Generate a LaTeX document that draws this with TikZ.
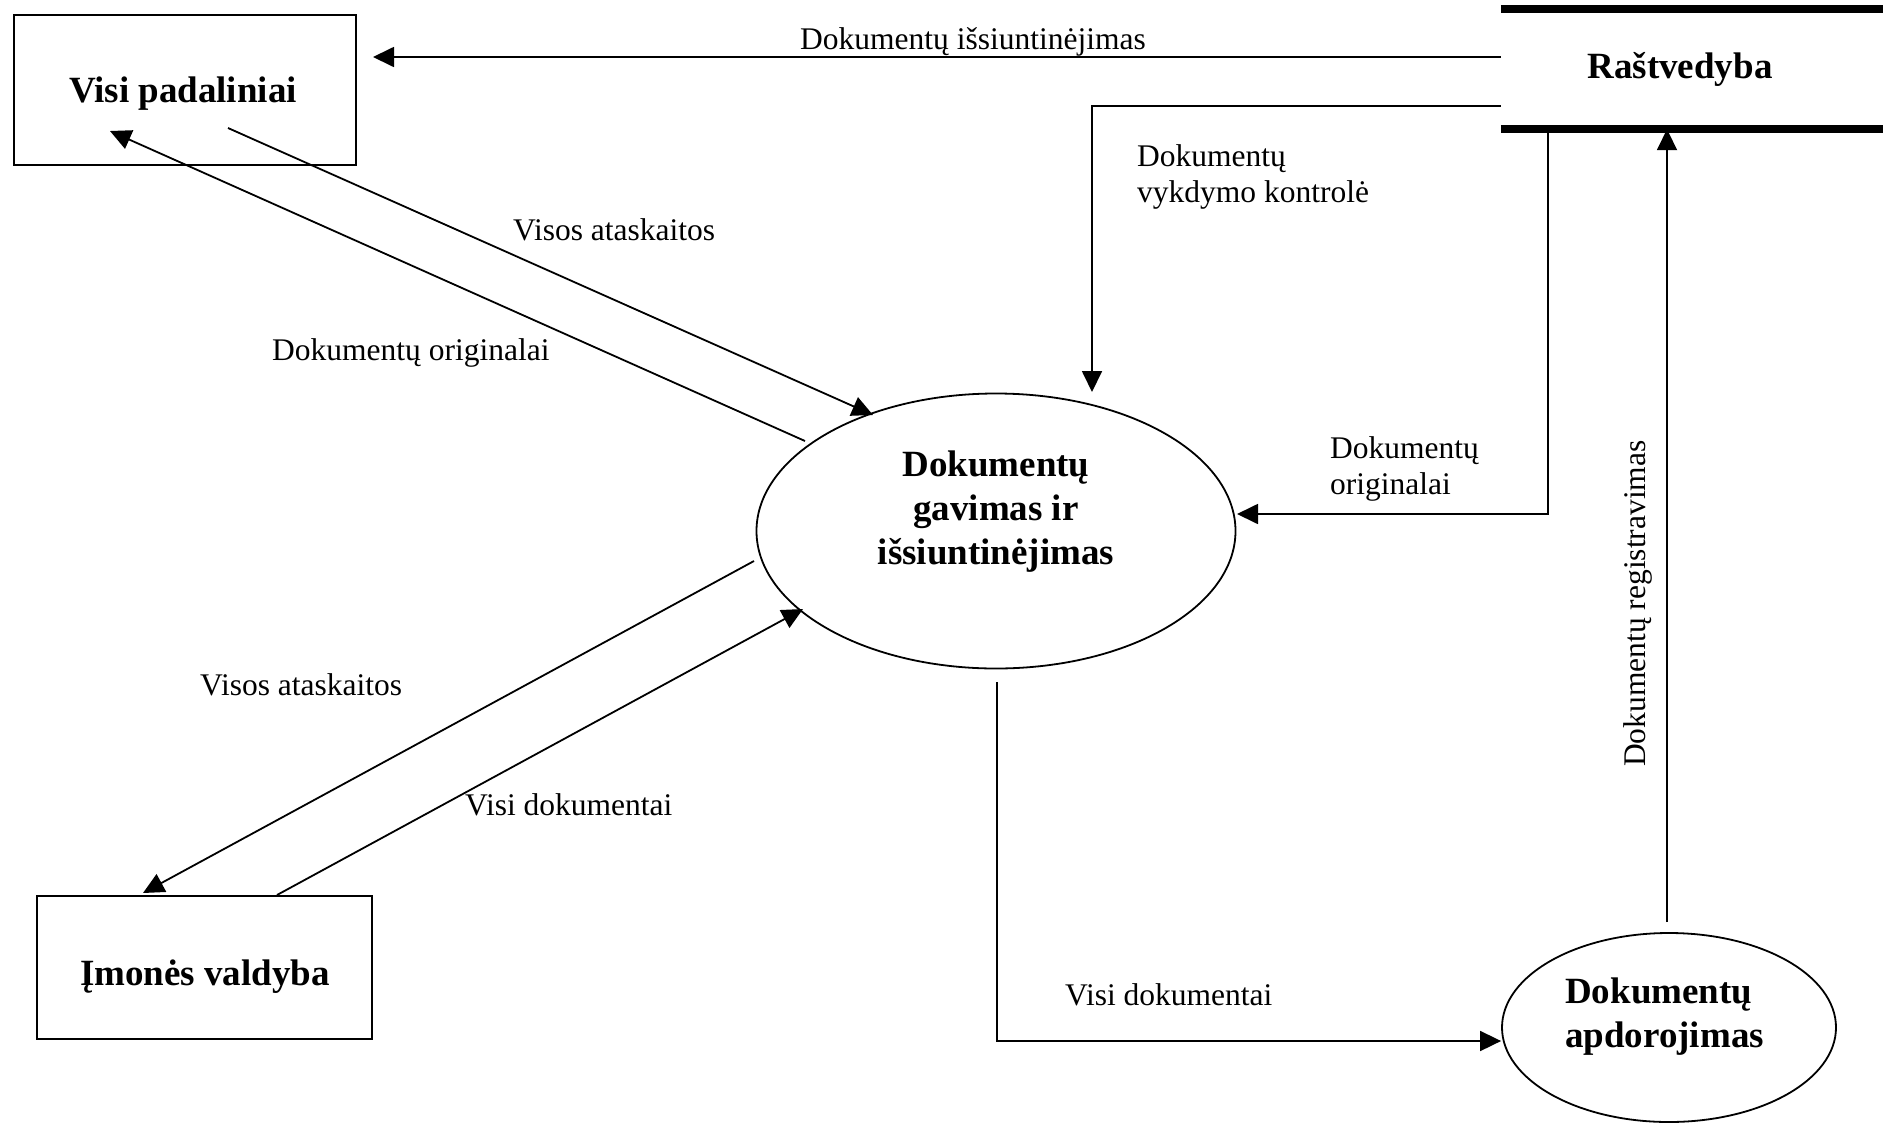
\documentclass[tikz,border=0pt]{standalone}
\usepackage{fontspec}
\setmainfont{Liberation Serif}
\usetikzlibrary{arrows.meta,shapes.geometric}
\begin{document}
\begin{tikzpicture}[x=1pt,y=-1pt,
  entity/.style={draw, rectangle, line width=1.8pt, inner sep=0pt},
  process/.style={draw, ellipse, line width=1.8pt, inner sep=0pt},
  title/.style={font=\fontsize{37}{44}\selectfont\bfseries, inner sep=0pt, align=center},
  lbl/.style={font=\fontsize{31.5}{36}\selectfont, inner sep=0pt, align=left, anchor=base west},
  flow/.style={line width=1.8pt, -{Triangle[length=21pt,width=20pt]}},
  storebar/.style={line width=8pt}]
\useasboundingbox (0,0) rectangle (1883,1125);

% external entities
\node[entity, minimum width=342pt, minimum height=150pt] (vp) at (185,90) {};
\node[title, anchor=base] (vpt) at (183,102) {Visi padaliniai};
\node[entity, minimum width=335pt, minimum height=143pt] (iv) at (204.5,967.5) {};
\node[title, anchor=base] (ivt) at (205,985) {Įmonės valdyba};

% processes (multi-line text is placed by the baseline of its last line)
\node[process, minimum width=479pt, minimum height=275pt] (main) at (996,531) {};
\node[title, anchor=base] (maint) at (996,564) {Dokumentų\\gavimas ir\\išsiuntinėjimas};
\node[process, minimum width=334pt, minimum height=189pt] (apd) at (1669,1027.5) {};
\node[title, anchor=base west, align=left] (apdt) at (1565,1047) {Dokumentų\\apdorojimas};

% data store
\node[inner sep=0pt, minimum width=382pt, minimum height=120pt] (rs) at (1692,69) {};
\draw[storebar] (rs.north west) -- (rs.north east);
\draw[storebar] (rs.south west) -- (rs.south east);
\node[title, anchor=base] (rst) at (1680,78) {Raštvedyba};

% connector end points
\coordinate (vpIn)   at (373,57);
\coordinate (ctlBend) at (1092,106);
\coordinate (ctlIn)  at (1092,392);
\coordinate (orgBend) at (1548,514);
\coordinate (orgIn)  at (1237,514);
\coordinate (regOut) at (1667,922);
\coordinate (mainOut) at (997,682);
\coordinate (allBend) at (997,1041);
\coordinate (repOut) at (228,128);
\coordinate (repIn)  at (873,415);
\coordinate (origOut) at (805,441);
\coordinate (origIn) at (110,131);
\coordinate (rep2Out) at (754,561);
\coordinate (rep2In) at (143,893);
\coordinate (docOut) at (277,895);
\coordinate (docIn)  at (803,609);

% flows
\draw[flow] (rs.west |- 0,57) -- (vpIn);
\draw[flow] (rs.west |- 0,106) -- (ctlBend) -- (ctlIn);
\draw[flow] (1548,0 |- rs.south) -- (orgBend) -- (orgIn);
\draw[flow] (regOut) -- (1667,0 |- rs.south);
\draw[flow] (mainOut) -- (allBend) -- (apd.west |- allBend);
\draw[flow] (repOut) -- (repIn);
\draw[flow] (origOut) -- (origIn);
\draw[flow] (rep2Out) -- (rep2In);
\draw[flow] (docOut) -- (docIn);

% flow labels
\node[lbl] (l1) at (800,49) {Dokumentų išsiuntinėjimas};
\node[lbl] (l2) at (1137,202) {Dokumentų\\vykdymo kontrolė};
\node[lbl] (l3) at (1330,494) {Dokumentų\\originalai};
\node[lbl, rotate=90] (l4) at (1645,767) {Dokumentų registravimas};
\node[lbl] (l5) at (513,240) {Visos ataskaitos};
\node[lbl] (l6) at (272,360) {Dokumentų originalai};
\node[lbl] (l7) at (200,695) {Visos ataskaitos};
\node[lbl] (l8) at (465,815) {Visi dokumentai};
\node[lbl] (l9) at (1065,1005) {Visi dokumentai};
\end{tikzpicture}
\end{document}
